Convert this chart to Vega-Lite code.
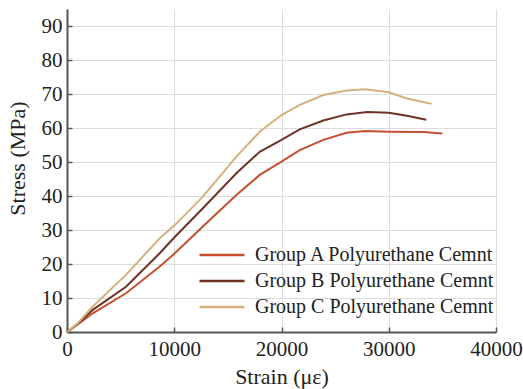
{
  "$schema": "https://vega.github.io/schema/vega-lite/v6.json",
  "width": 429,
  "height": 323,
  "autosize": {"type": "none"},
  "padding": {"left": 67, "top": 9, "right": 27, "bottom": 57},
  "background": "white",
  "data": {
    "values": [
      {"group": "Group A Polyurethane Cemnt", "strain": 0, "stress": 0},
      {"group": "Group A Polyurethane Cemnt", "strain": 1000, "stress": 2.2},
      {"group": "Group A Polyurethane Cemnt", "strain": 2400, "stress": 5.5},
      {"group": "Group A Polyurethane Cemnt", "strain": 5500, "stress": 11.4},
      {"group": "Group A Polyurethane Cemnt", "strain": 8620, "stress": 19.2},
      {"group": "Group A Polyurethane Cemnt", "strain": 10000, "stress": 23.0},
      {"group": "Group A Polyurethane Cemnt", "strain": 12670, "stress": 31.0},
      {"group": "Group A Polyurethane Cemnt", "strain": 15790, "stress": 40.3},
      {"group": "Group A Polyurethane Cemnt", "strain": 17970, "stress": 46.2},
      {"group": "Group A Polyurethane Cemnt", "strain": 20000, "stress": 50.1},
      {"group": "Group A Polyurethane Cemnt", "strain": 21700, "stress": 53.5},
      {"group": "Group A Polyurethane Cemnt", "strain": 23900, "stress": 56.5},
      {"group": "Group A Polyurethane Cemnt", "strain": 26070, "stress": 58.6},
      {"group": "Group A Polyurethane Cemnt", "strain": 27800, "stress": 59.1},
      {"group": "Group A Polyurethane Cemnt", "strain": 30000, "stress": 58.9},
      {"group": "Group A Polyurethane Cemnt", "strain": 33200, "stress": 58.8},
      {"group": "Group A Polyurethane Cemnt", "strain": 35000, "stress": 58.4},
      {"group": "Group B Polyurethane Cemnt", "strain": 0, "stress": 0},
      {"group": "Group B Polyurethane Cemnt", "strain": 1000, "stress": 2.4},
      {"group": "Group B Polyurethane Cemnt", "strain": 2400, "stress": 6.5},
      {"group": "Group B Polyurethane Cemnt", "strain": 5500, "stress": 13.3},
      {"group": "Group B Polyurethane Cemnt", "strain": 8620, "stress": 23.1},
      {"group": "Group B Polyurethane Cemnt", "strain": 10000, "stress": 27.8},
      {"group": "Group B Polyurethane Cemnt", "strain": 12670, "stress": 36.4},
      {"group": "Group B Polyurethane Cemnt", "strain": 15790, "stress": 46.7},
      {"group": "Group B Polyurethane Cemnt", "strain": 17970, "stress": 53.0},
      {"group": "Group B Polyurethane Cemnt", "strain": 20000, "stress": 56.5},
      {"group": "Group B Polyurethane Cemnt", "strain": 21700, "stress": 59.6},
      {"group": "Group B Polyurethane Cemnt", "strain": 23900, "stress": 62.2},
      {"group": "Group B Polyurethane Cemnt", "strain": 26070, "stress": 64.0},
      {"group": "Group B Polyurethane Cemnt", "strain": 28000, "stress": 64.7},
      {"group": "Group B Polyurethane Cemnt", "strain": 30000, "stress": 64.5},
      {"group": "Group B Polyurethane Cemnt", "strain": 31700, "stress": 63.6},
      {"group": "Group B Polyurethane Cemnt", "strain": 33500, "stress": 62.4},
      {"group": "Group C Polyurethane Cemnt", "strain": 0, "stress": 0},
      {"group": "Group C Polyurethane Cemnt", "strain": 1000, "stress": 2.6},
      {"group": "Group C Polyurethane Cemnt", "strain": 2400, "stress": 7.5},
      {"group": "Group C Polyurethane Cemnt", "strain": 5500, "stress": 16.8},
      {"group": "Group C Polyurethane Cemnt", "strain": 8620, "stress": 27.5},
      {"group": "Group C Polyurethane Cemnt", "strain": 10000, "stress": 31.3},
      {"group": "Group C Polyurethane Cemnt", "strain": 12670, "stress": 39.8},
      {"group": "Group C Polyurethane Cemnt", "strain": 15790, "stress": 51.6},
      {"group": "Group C Polyurethane Cemnt", "strain": 17970, "stress": 58.9},
      {"group": "Group C Polyurethane Cemnt", "strain": 20000, "stress": 63.8},
      {"group": "Group C Polyurethane Cemnt", "strain": 21700, "stress": 66.8},
      {"group": "Group C Polyurethane Cemnt", "strain": 23900, "stress": 69.7},
      {"group": "Group C Polyurethane Cemnt", "strain": 26070, "stress": 71.0},
      {"group": "Group C Polyurethane Cemnt", "strain": 27800, "stress": 71.4},
      {"group": "Group C Polyurethane Cemnt", "strain": 30000, "stress": 70.5},
      {"group": "Group C Polyurethane Cemnt", "strain": 31700, "stress": 68.7},
      {"group": "Group C Polyurethane Cemnt", "strain": 34000, "stress": 67.1}
    ]
  },
  "mark": {"type": "line", "strokeWidth": 2},
  "encoding": {
    "x": {
      "field": "strain",
      "type": "quantitative",
      "scale": {"domain": [0, 40000], "nice": false},
      "axis": {
        "title": "Strain (με)",
        "values": [0, 10000, 20000, 30000, 40000],
        "format": "d",
        "tickSize": -5,
        "labelPadding": 11,
        "labelFlush": false,
        "titlePadding": 7
      }
    },
    "y": {
      "field": "stress",
      "type": "quantitative",
      "scale": {"domain": [0, 95], "nice": false},
      "axis": {
        "title": "Stress (MPa)",
        "values": [0, 10, 20, 30, 40, 50, 60, 70, 80, 90],
        "tickSize": -5,
        "labelPadding": 10,
        "labelFlush": false,
        "titlePadding": 12,
        "titleY": 149
      }
    },
    "color": {
      "field": "group",
      "type": "nominal",
      "scale": {
        "domain": ["Group A Polyurethane Cemnt", "Group B Polyurethane Cemnt", "Group C Polyurethane Cemnt"],
        "range": ["#C4502F", "#6E3328", "#D6B07A"]
      },
      "legend": {
        "title": null,
        "orient": "none",
        "legendX": 145,
        "legendY": 236,
        "symbolType": "M-5,0H5",
        "symbolSize": 81,
        "symbolStrokeWidth": 2.5,
        "symbolFillColor": "transparent",
        "labelFontSize": 20,
        "labelFont": "Liberation Serif",
        "labelColor": "#222",
        "labelOffset": 23,
        "rowPadding": 6,
        "labelLimit": 400,
        "padding": 0
      }
    }
  },
  "config": {
    "view": {"stroke": null},
    "axis": {
      "labelFont": "Liberation Serif",
      "titleFont": "Liberation Serif",
      "labelFontSize": 21,
      "titleFontSize": 22,
      "titleFontWeight": "normal",
      "labelColor": "#222",
      "titleColor": "#222",
      "domainColor": "#555",
      "domainWidth": 2,
      "tickColor": "#555",
      "tickWidth": 1.5,
      "gridColor": "#dddddd",
      "gridWidth": 1
    }
  }
}
